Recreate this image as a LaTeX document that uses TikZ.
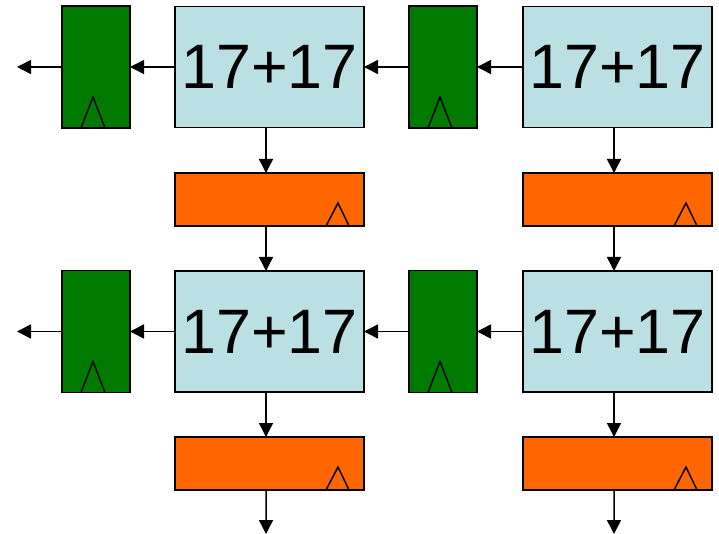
\documentclass[tikz,border=0pt]{standalone}
\usepackage{fontspec}
\setmainfont{Liberation Sans}
\usetikzlibrary{arrows.meta}
\definecolor{regGreen}{RGB}{0,122,0}
\definecolor{addBlue}{RGB}{187,224,228}
\definecolor{pipeOrange}{RGB}{255,102,0}
\tikzset{
  x=1bp, y=-1bp,
  box/.style={draw=black, line width=1.2bp, inner sep=0pt, outer sep=0pt},
  reg/.style={box, fill=regGreen, minimum width=68bp, minimum height=122bp},
  adder/.style={box, fill=addBlue, minimum width=189bp, minimum height=121bp,
    font=\fontsize{63}{63}\selectfont},
  preg/.style={box, fill=pipeOrange, minimum width=189bp, minimum height=53bp},
  clk/.style={draw=black, line width=1.5bp, line join=miter},
  wire/.style={draw=black, line width=1.5bp, -{Triangle[length=14bp,width=14bp]}}
}
\newcommand{\regclk}[1]{% clock mark at the bottom of a green register
  \draw[clk] ([xshift=-15bp]#1.south) -- ([xshift=-3bp,yshift=31bp]#1.south) -- ([xshift=9bp]#1.south);}
\newcommand{\pregclk}[1]{% clock mark at the bottom right of an orange register
  \draw[clk] ([xshift=-38bp]#1.south east) -- ([xshift=-26bp,yshift=23bp]#1.south east) -- ([xshift=-15bp]#1.south east);}
\begin{document}
\begin{tikzpicture}
\useasboundingbox (0,0) rectangle (719,534);

% upper row
\node[reg]   (ga) at (96,67) {};
\node[adder] (aa) at (269.5,67) {\raisebox{-2bp}{17+17}};
\node[reg]   (gb) at (443,67) {};
\node[adder] (ab) at (617.5,67) {\raisebox{-2bp}{17+17}};
\node[preg]  (oa) at (269.5,199.5) {};
\node[preg]  (ob) at (617.5,199.5) {};

% lower row
\node[reg]   (gc) at (96,331.5) {};
\node[adder] (ac) at (269.5,331.5) {\raisebox{-2bp}{17+17}};
\node[reg]   (gd) at (443,331.5) {};
\node[adder] (ad) at (617.5,331.5) {\raisebox{-2bp}{17+17}};
\node[preg]  (oc) at (269.5,463.5) {};
\node[preg]  (od) at (617.5,463.5) {};

% free ends
\coordinate (la) at (17,67);
\coordinate (lc) at (17,331.5);
\coordinate (ec) at (266,534);
\coordinate (ed) at (614,534);

% clock marks
\regclk{ga}\regclk{gb}\regclk{gc}\regclk{gd}
\pregclk{oa}\pregclk{ob}\pregclk{oc}\pregclk{od}

% horizontal connections
\draw[wire] (ab.west) -- (gb.east);
\draw[wire] (gb.west) -- (aa.east);
\draw[wire] (aa.west) -- (ga.east);
\draw[wire] (ga.west) -- (la);
\draw[wire] (ad.west) -- (gd.east);
\draw[wire] (gd.west) -- (ac.east);
\draw[wire] (ac.west) -- (gc.east);
\draw[wire] (gc.west) -- (lc);

% vertical connections
\draw[wire] ([xshift=-3.5bp]aa.south) -- ([xshift=-3.5bp]oa.north);
\draw[wire] ([xshift=-3.5bp]oa.south) -- ([xshift=-3.5bp]ac.north);
\draw[wire] ([xshift=-3.5bp]ac.south) -- ([xshift=-3.5bp]oc.north);
\draw[wire] ([xshift=-3.5bp]oc.south) -- (ec);
\draw[wire] ([xshift=-3.5bp]ab.south) -- ([xshift=-3.5bp]ob.north);
\draw[wire] ([xshift=-3.5bp]ob.south) -- ([xshift=-3.5bp]ad.north);
\draw[wire] ([xshift=-3.5bp]ad.south) -- ([xshift=-3.5bp]od.north);
\draw[wire] ([xshift=-3.5bp]od.south) -- (ed);
\end{tikzpicture}
\end{document}
